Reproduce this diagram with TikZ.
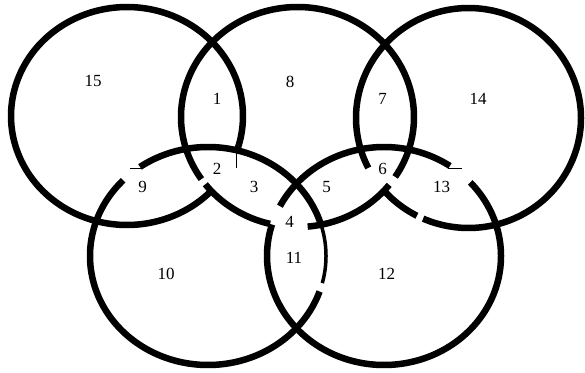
\documentclass[tikz,border=0pt]{standalone}
\usepackage{fontspec}
\setmainfont{Liberation Serif}
\usepackage{tikz}

\tikzset{
    ring/.style={line width=6.5pt, black},
    ringthin/.style={line width=3.5pt, black},
    trace/.style={line width=0.8pt, black},
    region label/.style={font=\fontsize{17}{17}\selectfont, inner sep=0pt},
}
% ring piece: [style]{cx}{cy}{rx}{ry}{from angle}{to angle}, picture y runs down
\newcommand{\ringarc}[7][ring]{%
    \draw[#1] plot[domain=#6:#7, samples=80, smooth] ({#2+#4*cos(\x)},{#3-#5*sin(\x)});}

\begin{document}
\begin{tikzpicture}[x=1pt, y=-1pt]
    \useasboundingbox (0,0) rectangle (585,372);

    % top left ring
    \ringarc{127}{116}{116}{109}{-18}{317.1}
    \draw[trace] (236,152) -- (236,168);
    % top middle ring
    \ringarc{297.5}{117}{116.5}{110}{-33}{214.4}
    \ringarc{297.5}{117}{116.5}{110}{217.7}{256.4}
    \ringarc{297.5}{117}{116.5}{110}{275}{321.9}
    % top right ring
    \ringarc{468.5}{118}{112.5}{110}{221.2}{242.7}
    \ringarc{468.5}{118}{112.5}{110}{246.2}{567}
    % bottom left ring
    \ringarc{208}{256}{118}{109}{16.5}{125.2}
    \ringarc[ringthin]{208}{256}{118}{109}{-14.4}{16.5}
    \ringarc{208}{256}{118}{109}{136}{341}
    \draw[trace] (130,168) -- (141,168);
    % bottom right ring
    \ringarc{384}{256}{117}{109}{55.7}{152.8}
    \ringarc{384}{256}{117}{109}{163.2}{402.5}
    \draw[trace] (448,168) -- (462,168);

    % region numbers
    \foreach \n/\px/\py in {15/93/81, 8/290/82, 1/217/99, 7/382.5/99, 14/478/99,
        2/217/169, 6/382.5/169, 9/142.5/187, 3/254/187, 5/326.7/187, 13/441.7/187,
        4/289.7/221.7, 11/294/257.5, 10/166/274, 12/386.7/274} {
        \node[region label] (r\n) at (\px,\py) {\n};
    }
\end{tikzpicture}
\end{document}
